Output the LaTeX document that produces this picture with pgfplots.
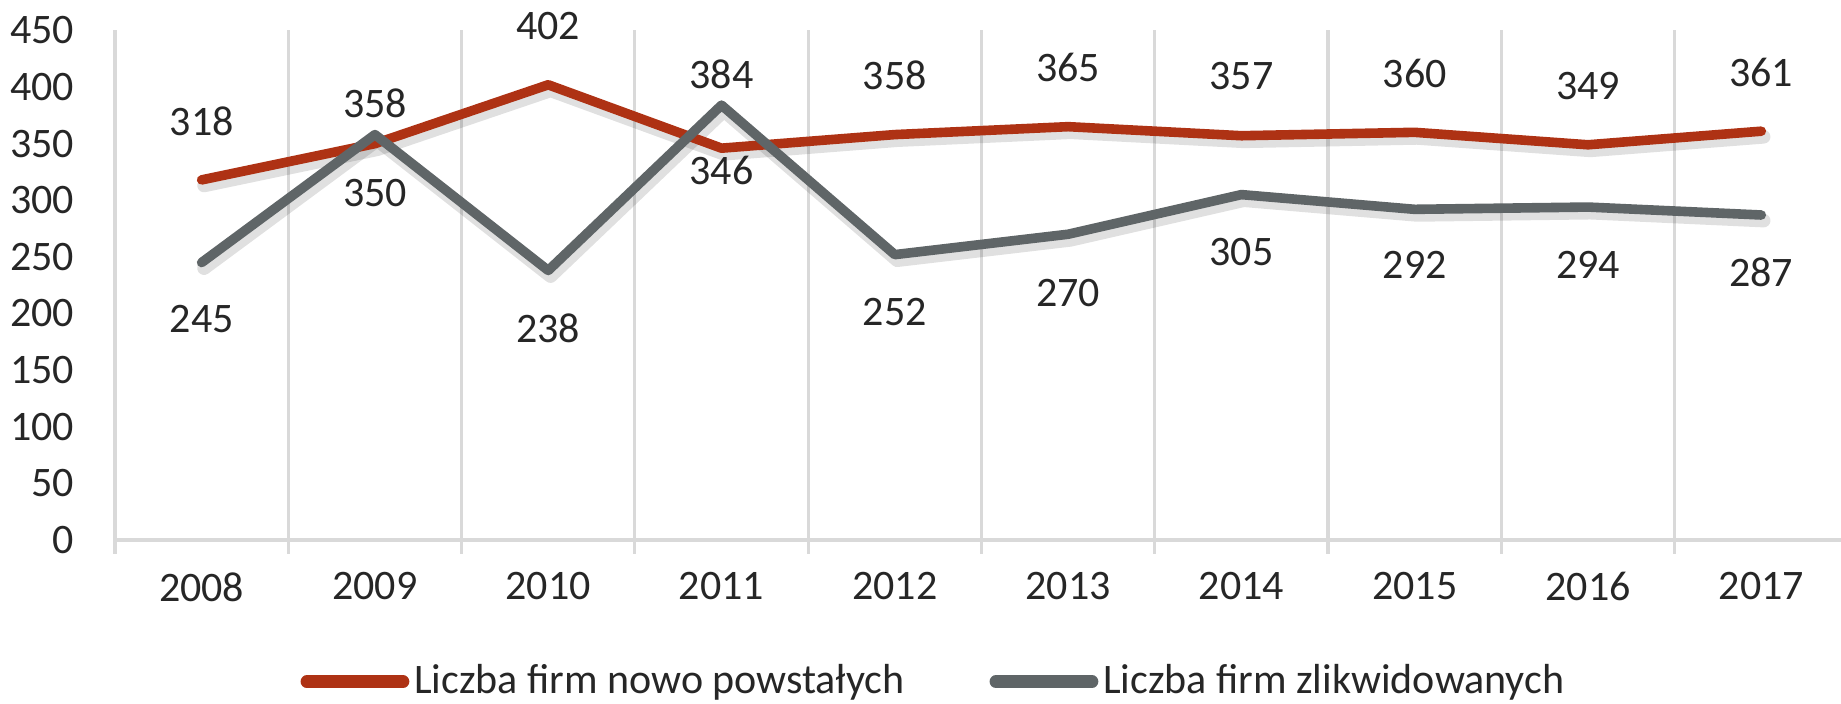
\documentclass[border=0pt]{standalone}
\usepackage{fontspec}
\setmainfont{Carlito}
\usepackage{pgfplots}
\usepackage{pgfplotstable}
\pgfplotsset{compat=1.18}

\definecolor{newred}{HTML}{AE3214}
\definecolor{closegray}{HTML}{5F6567}
\definecolor{gridgray}{HTML}{D9D9D9}
\definecolor{txt}{HTML}{262626}

% x = year index, v = value, ly = where the label sits
\pgfplotstableread{
x v ly
0 318 370
1 350 306
2 402 454
3 346 326
4 358 410
5 365 417
6 357 410
7 360 412
8 349 401
9 361 413
}\nowe

\pgfplotstableread{
x v ly
0 245 195
1 358 386
2 238 187
3 384 411
4 252 201
5 270 218
6 305 254
7 292 243
8 294 243
9 287 236
}\zlikw

\begin{document}
\begin{tikzpicture}
\begin{axis}[
    scale only axis,
    width=431.5pt, height=127.4pt,
    xmin=-0.5, xmax=9.46,
    ymin=0, ymax=450,
    clip=false,
    font=\fontsize{10.5}{12}\selectfont,
    /pgf/number format/assume math mode=true,
    ticklabel style={text=txt},
    axis x line*=bottom, axis y line*=left,
    x axis line style={-, draw=gridgray, line width=0.8pt},
    y axis line style={draw=none},
    xtick={0,...,9},
    xticklabels={2008,2009,2010,2011,2012,2013,2014,2015,2016,2017},
    major x tick style={draw=none},
    minor xtick={-0.5,0.5,...,8.5},
    minor x tick style={draw=gridgray, line width=0.8pt},
    minor tick length=3.5pt,
    tick align=outside,
    minor x grid style={draw=gridgray, line width=0.8pt},
    xminorgrids,
    xticklabel style={yshift=-0.3pt},
    ytick={0,50,...,450},
    ytick style={draw=none},
    yticklabel style={xshift=-2.4pt},
    legend style={draw=none, at={(0.475,-0.278)}, anchor=center,
        legend columns=-1, text=txt,
        nodes={inner sep=1.2pt},
        /tikz/every even column/.append style={column sep=20pt}},
    legend image code/.code={\draw[line width=3.2pt, line cap=round] (0pt,0pt) -- (24pt,0pt);},
]
% soft shadows under the lines
\addplot[forget plot, draw=black, opacity=0.12, line width=3.4pt, line cap=round, line join=round,
    transform canvas={xshift=0.6pt, yshift=-1.4pt}] table[x=x, y=v] {\nowe};
\addplot[forget plot, draw=black, opacity=0.12, line width=3.4pt, line cap=round, line join=round,
    transform canvas={xshift=0.6pt, yshift=-1.4pt}] table[x=x, y=v] {\zlikw};

\addplot[draw=newred, line width=2.4pt, line cap=round, line join=round] table[x=x, y=v] {\nowe};
\addlegendentry{Liczba firm nowo powstałych}
\addplot[draw=closegray, line width=2.4pt, line cap=round, line join=round] table[x=x, y=v] {\zlikw};
\addlegendentry{Liczba firm zlikwidowanych}

% data labels
\addplot[forget plot, draw=none, mark=none, nodes near coords, point meta=explicit symbolic,
    every node near coord/.append style={anchor=center, text=txt, inner sep=0pt}]
    table[x=x, y=ly, meta=v] {\nowe};
\addplot[forget plot, draw=none, mark=none, nodes near coords, point meta=explicit symbolic,
    every node near coord/.append style={anchor=center, text=txt, inner sep=0pt}]
    table[x=x, y=ly, meta=v] {\zlikw};
\end{axis}
\pgfresetboundingbox
\path[use as bounding box] (-28.75pt,-41pt) rectangle (431.5pt,135pt);
\end{tikzpicture}
\end{document}
